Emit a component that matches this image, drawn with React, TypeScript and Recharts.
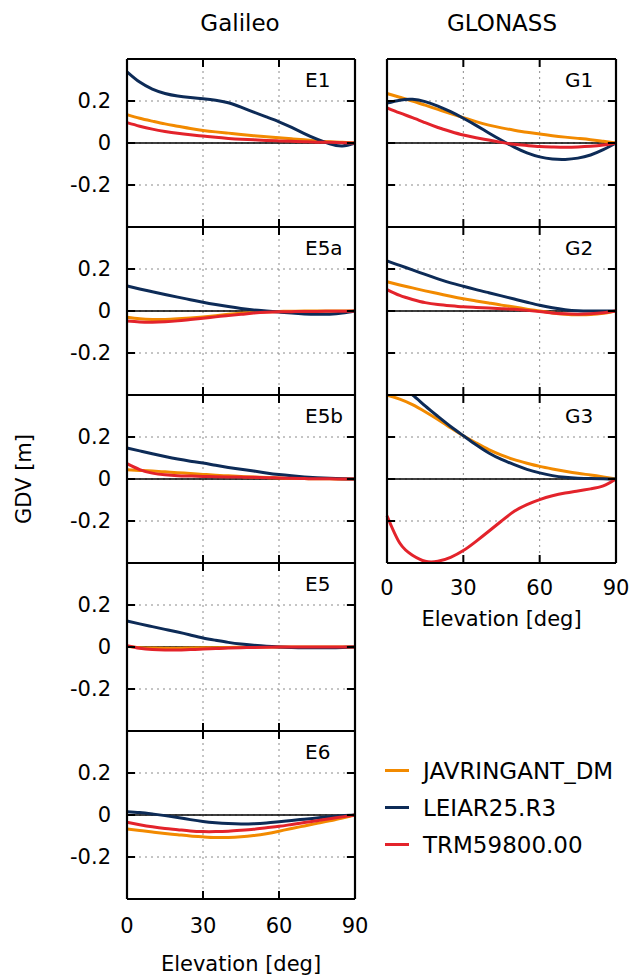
import {
  CartesianGrid,
  Legend,
  Line,
  LineChart,
  ReferenceLine,
  XAxis,
  YAxis,
} from 'recharts'

const elevation = [0, 5, 10, 15, 20, 25, 30, 35, 40, 45, 50, 55, 60, 65, 70, 75, 80, 85, 90]
const xTicks = [0, 30, 60, 90]
const yTicks = [-0.2, 0, 0.2]
const antennas = ['JAVRINGANT_DM', 'LEIAR25.R3', 'TRM59800.00']

// Galileo
const e1Jav = [0.135, 0.118, 0.104, 0.091, 0.08, 0.069, 0.06, 0.053, 0.047, 0.041, 0.035, 0.03, 0.025, 0.02, 0.015, 0.01, 0.006, 0.003, 0]
const e1Leiar = [0.339, 0.29, 0.257, 0.236, 0.224, 0.217, 0.211, 0.204, 0.192, 0.171, 0.147, 0.124, 0.101, 0.074, 0.045, 0.018, -0.004, -0.014, 0]
const e1Trm = [0.097, 0.08, 0.066, 0.055, 0.046, 0.039, 0.033, 0.027, 0.022, 0.018, 0.015, 0.012, 0.01, 0.008, 0.006, 0.004, 0.003, 0.001, 0]

const e5aJav = [-0.03, -0.037, -0.04, -0.04, -0.037, -0.033, -0.028, -0.022, -0.016, -0.011, -0.007, -0.004, -0.002, -0.001, 0, 0, 0, 0, 0]
const e5aLeiar = [0.119, 0.105, 0.092, 0.079, 0.066, 0.054, 0.042, 0.031, 0.021, 0.012, 0.005, 0, -0.005, -0.01, -0.014, -0.016, -0.015, -0.01, 0]
const e5aTrm = [-0.048, -0.052, -0.053, -0.051, -0.047, -0.041, -0.035, -0.028, -0.022, -0.016, -0.01, -0.006, -0.004, -0.003, -0.002, -0.002, -0.001, -0.001, 0]

const e5bJav = [0.044, 0.041, 0.038, 0.034, 0.03, 0.026, 0.022, 0.018, 0.015, 0.012, 0.01, 0.007, 0.005, 0.003, 0.002, 0.001, 0.001, 0, 0]
const e5bLeiar = [0.148, 0.134, 0.12, 0.107, 0.095, 0.085, 0.076, 0.065, 0.055, 0.046, 0.038, 0.029, 0.021, 0.015, 0.01, 0.006, 0.003, 0.001, 0]
const e5bTrm = [0.073, 0.045, 0.028, 0.02, 0.016, 0.014, 0.012, 0.011, 0.01, 0.009, 0.008, 0.006, 0.005, 0.003, 0.002, 0.001, 0.001, 0, 0]

const e5Jav = [0.003, -0.003, -0.005, -0.006, -0.006, -0.005, -0.004, -0.003, -0.002, -0.001, 0, 0, 0, 0, 0, 0, 0, 0, 0]
const e5Leiar = [0.124, 0.11, 0.097, 0.084, 0.071, 0.057, 0.043, 0.032, 0.022, 0.014, 0.008, 0.003, 0, -0.002, -0.003, -0.003, -0.003, -0.002, 0]
const e5Trm = [0.006, -0.006, -0.012, -0.014, -0.014, -0.012, -0.01, -0.007, -0.005, -0.003, -0.002, -0.001, 0, 0, 0, 0, 0, 0, 0]

const e6Jav = [-0.067, -0.074, -0.081, -0.088, -0.094, -0.1, -0.104, -0.107, -0.107, -0.104, -0.098, -0.089, -0.077, -0.064, -0.052, -0.04, -0.028, -0.014, 0]
const e6Leiar = [0.016, 0.012, 0.005, -0.003, -0.012, -0.022, -0.031, -0.037, -0.041, -0.043, -0.042, -0.038, -0.032, -0.026, -0.02, -0.014, -0.008, -0.003, 0]
const e6Trm = [-0.035, -0.046, -0.056, -0.064, -0.07, -0.076, -0.079, -0.079, -0.077, -0.073, -0.068, -0.061, -0.054, -0.045, -0.036, -0.027, -0.018, -0.009, 0]

// GLONASS
const g1Jav = [0.236, 0.218, 0.2, 0.18, 0.16, 0.14, 0.121, 0.102, 0.085, 0.072, 0.061, 0.051, 0.043, 0.035, 0.028, 0.022, 0.016, 0.008, 0]
const g1Leiar = [0.19, 0.204, 0.208, 0.197, 0.176, 0.149, 0.118, 0.084, 0.048, 0.013, -0.02, -0.047, -0.066, -0.076, -0.078, -0.072, -0.057, -0.032, 0]
const g1Trm = [0.168, 0.143, 0.121, 0.097, 0.074, 0.055, 0.038, 0.025, 0.014, 0.003, -0.006, -0.012, -0.017, -0.019, -0.02, -0.019, -0.016, -0.01, 0]

const g2Jav = [0.139, 0.124, 0.11, 0.096, 0.083, 0.07, 0.058, 0.048, 0.038, 0.028, 0.019, 0.009, 0, -0.009, -0.015, -0.018, -0.017, -0.011, 0]
const g2Leiar = [0.239, 0.217, 0.196, 0.174, 0.153, 0.134, 0.118, 0.102, 0.087, 0.072, 0.057, 0.042, 0.027, 0.015, 0.006, 0.001, 0, 0, 0]
const g2Trm = [0.102, 0.074, 0.055, 0.04, 0.031, 0.025, 0.02, 0.017, 0.014, 0.011, 0.008, 0.003, -0.003, -0.009, -0.013, -0.015, -0.013, -0.008, 0]

const g3Jav = [0.4, 0.38, 0.354, 0.32, 0.283, 0.244, 0.206, 0.172, 0.14, 0.114, 0.092, 0.075, 0.06, 0.048, 0.037, 0.027, 0.019, 0.01, 0]
const g3Leiar = [0.49, 0.445, 0.401, 0.348, 0.298, 0.25, 0.206, 0.163, 0.124, 0.093, 0.068, 0.046, 0.029, 0.016, 0.008, 0.004, 0.002, 0.001, 0]
const g3Trm = [-0.175, -0.305, -0.363, -0.392, -0.392, -0.373, -0.341, -0.297, -0.249, -0.2, -0.154, -0.122, -0.098, -0.08, -0.067, -0.057, -0.047, -0.033, 0]

const FONT = '"DejaVu Sans", Verdana, sans-serif'
const ORANGE = '#f28a00'
const NAVY = '#0d2b57'
const RED = '#e3232b'

const PLOT_H = 168
const TICK_X = 3.2 // 8px inward ticks, in data units
const TICK_Y = 0.038

const toRows = (jav: number[], leiar: number[], trm: number[]) =>
  elevation.map((elev, i) => ({ elev, jav: jav[i], leiar: leiar[i], trm: trm[i] }))

type PanelProps = {
  name: string
  rows: ReturnType<typeof toRows>
  left: number
  top: number
  plotW: number
  showY?: boolean
  xAxisH?: number
  tickGap?: number
  gdv?: boolean
  legend?: boolean
}

const Panel = ({ name, rows, left, top, plotW, showY, xAxisH, tickGap = 18, gdv, legend }: PanelProps) => {
  const yW = showY ? 127 : 0
  const mLeft = showY ? 0 : 17
  const width = mLeft + yW + plotW + 16
  const mBottom = xAxisH ? 10 : 2
  const height = 2 + PLOT_H + (xAxisH ?? 0) + mBottom
  return (
    <div style={{ position: 'absolute', left, top: top - 2 }}>
      <LineChart
        width={width}
        height={height}
        data={rows}
        margin={{ top: 2, right: 16, bottom: mBottom, left: mLeft }}
      >
        <CartesianGrid stroke="#8a8a8a" strokeDasharray="2 4" strokeWidth={1} />
        <XAxis
          dataKey="elev"
          type="number"
          domain={[0, 90]}
          ticks={xTicks}
          hide={!xAxisH}
          height={xAxisH ?? 0}
          axisLine={false}
          tickLine={false}
          tickSize={0}
          tickMargin={tickGap}
          tick={{ fill: '#000', fontSize: 21, fontFamily: FONT }}
          label={{
            value: 'Elevation [deg]',
            position: 'insideBottom',
            offset: 0,
            fill: '#000',
            fontSize: 21,
            fontFamily: FONT,
          }}
        />
        <YAxis
          type="number"
          domain={[-0.4, 0.4]}
          ticks={yTicks}
          allowDataOverflow
          hide={!showY}
          width={yW}
          axisLine={false}
          tickLine={false}
          tickSize={0}
          tickMargin={16}
          tick={{ fill: '#000', fontSize: 21, fontFamily: FONT }}
          label={
            gdv
              ? (p: any) => {
                  const vb = p.viewBox
                  const cx = 31
                  const cy = vb.y + vb.height / 2
                  return (
                    <text
                      x={cx}
                      y={cy}
                      transform={`rotate(-90 ${cx} ${cy})`}
                      textAnchor="middle"
                      fontSize={21}
                      fontFamily={FONT}
                      fill="#000"
                    >
                      GDV [m]
                    </text>
                  )
                }
              : undefined
          }
        />
        <ReferenceLine y={0} stroke="#000" strokeWidth={1.5} />
        <Line
          type="natural"
          dataKey="jav"
          name={antennas[0]}
          stroke={ORANGE}
          strokeWidth={3}
          dot={false}
          isAnimationActive={false}
        />
        <Line
          type="natural"
          dataKey="leiar"
          name={antennas[1]}
          stroke={NAVY}
          strokeWidth={3}
          dot={false}
          isAnimationActive={false}
        />
        <Line
          type="natural"
          dataKey="trm"
          name={antennas[2]}
          stroke={RED}
          strokeWidth={3}
          dot={false}
          isAnimationActive={false}
        />
        {yTicks.map((v) => (
          <ReferenceLine key={`l${v}`} segment={[{ x: 0, y: v }, { x: TICK_X, y: v }]} stroke="#000" strokeWidth={2} />
        ))}
        {yTicks.map((v) => (
          <ReferenceLine key={`r${v}`} segment={[{ x: 90 - TICK_X, y: v }, { x: 90, y: v }]} stroke="#000" strokeWidth={2} />
        ))}
        {[30, 60].map((v) => (
          <ReferenceLine key={`t${v}`} segment={[{ x: v, y: 0.4 }, { x: v, y: 0.4 - TICK_Y }]} stroke="#000" strokeWidth={2} />
        ))}
        {[30, 60].map((v) => (
          <ReferenceLine key={`b${v}`} segment={[{ x: v, y: -0.4 }, { x: v, y: -0.4 + TICK_Y }]} stroke="#000" strokeWidth={2} />
        ))}
        {/* plot frame */}
        <ReferenceLine x={0} stroke="#000" strokeWidth={2.2} />
        <ReferenceLine x={90} stroke="#000" strokeWidth={2.2} />
        <ReferenceLine y={0.4} stroke="#000" strokeWidth={2.2} />
        <ReferenceLine y={-0.4} stroke="#000" strokeWidth={2.2} />
        {legend && (
          <Legend
            layout="vertical"
            align="center"
            verticalAlign="middle"
            wrapperStyle={{ left: 15, top: 359, width: 260 }}
            content={({ payload }: any) => (
              <div style={{ fontFamily: FONT, fontSize: 23, color: '#000' }}>
                {(payload ?? []).map((p: any) => (
                  <div key={p.value} style={{ display: 'flex', alignItems: 'center', height: 37, whiteSpace: 'nowrap' }}>
                    <span style={{ display: 'inline-block', width: 24, height: 3, background: p.color, marginRight: 14 }} />
                    {p.value}
                  </div>
                ))}
              </div>
            )}
          />
        )}
      </LineChart>
      <div
        style={{
          position: 'absolute',
          left: mLeft + yW + 178,
          top: 13,
          fontFamily: FONT,
          fontSize: 20,
          lineHeight: '20px',
          color: '#000',
          whiteSpace: 'nowrap',
        }}
      >
        {name}
      </div>
    </div>
  )
}

const titleStyle = {
  position: 'absolute' as const,
  top: 12,
  width: 200,
  textAlign: 'center' as const,
  fontFamily: FONT,
  fontSize: 23,
  lineHeight: '23px',
  color: '#000',
}

export default function App() {
  return (
    <div style={{ position: 'absolute', left: 0, top: 0, width: 644, height: 976, background: '#fff' }}>
      <div style={{ ...titleStyle, left: 140 }}>Galileo</div>
      <div style={{ ...titleStyle, left: 402 }}>GLONASS</div>

      <Panel name="E1" rows={toRows(e1Jav, e1Leiar, e1Trm)} left={0} top={59} plotW={228} showY />
      <Panel name="E5a" rows={toRows(e5aJav, e5aLeiar, e5aTrm)} left={0} top={227} plotW={228} showY />
      <Panel name="E5b" rows={toRows(e5bJav, e5bLeiar, e5bTrm)} left={0} top={395} plotW={228} showY gdv />
      <Panel name="E5" rows={toRows(e5Jav, e5Leiar, e5Trm)} left={0} top={563} plotW={228} showY />
      <Panel name="E6" rows={toRows(e6Jav, e6Leiar, e6Trm)} left={0} top={731} plotW={228} showY xAxisH={72} tickGap={19} />

      <Panel name="G1" rows={toRows(g1Jav, g1Leiar, g1Trm)} left={370} top={59} plotW={229} />
      <Panel name="G2" rows={toRows(g2Jav, g2Leiar, g2Trm)} left={370} top={227} plotW={229} />
      <Panel name="G3" rows={toRows(g3Jav, g3Leiar, g3Trm)} left={370} top={395} plotW={229} xAxisH={63} tickGap={17} legend />
    </div>
  )
}
